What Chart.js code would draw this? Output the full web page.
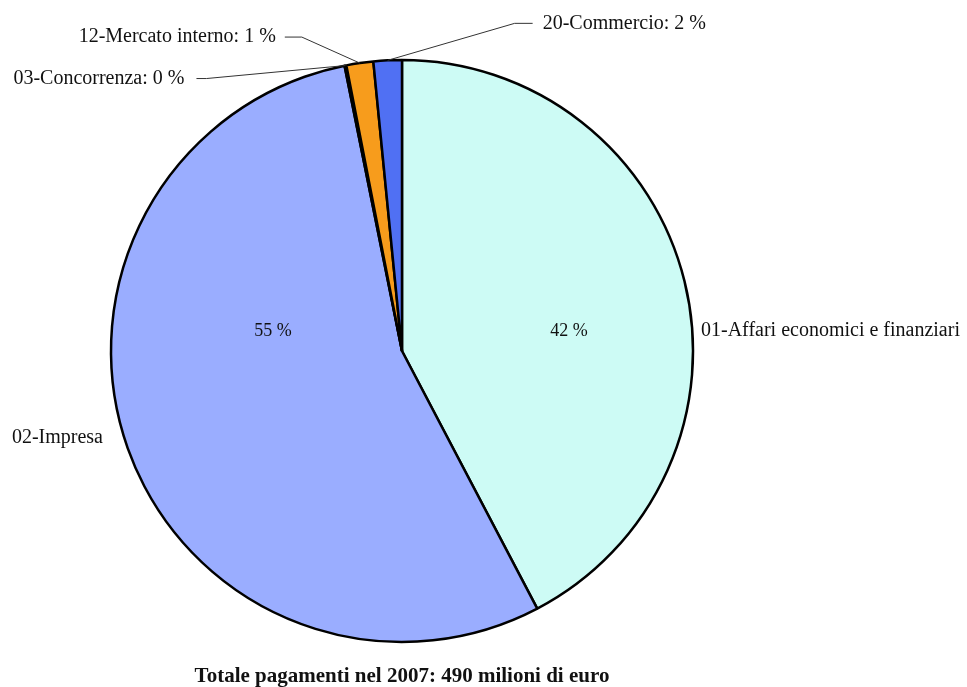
<!DOCTYPE html>
<html>
<head>
<meta charset="utf-8">
<script src="https://cdn.jsdelivr.net/npm/chart.js@4.4.1/dist/chart.umd.min.js"></script>
<style>
  html, body { margin: 0; padding: 0; background: #ffffff; }
  #wrap { width: 967px; height: 687px; }
</style>
</head>
<body>
<div id="wrap"><canvas id="chart" width="967" height="687"></canvas></div>
<script>
// Pagamenti 2007 per settore (milioni di euro)
const categories = [
  '01-Affari economici e finanziari',
  '02-Impresa',
  '03-Concorrenza',
  '12-Mercato interno',
  '20-Commercio'
];
const payments = [207.3, 267.2, 0.5, 7.3, 7.7];
const sliceColors = ['#cdfbf5', '#9aadff', '#1a1a40', '#f79c1c', '#5070f3'];
const titleText = 'Totale pagamenti nel 2007: 490 milioni di euro';

const FONT = '"Liberation Serif", "DejaVu Serif", serif';

// How each slice is labelled: big slices get the name beside the pie and the
// percentage inside; thin slices get "name: pct %" on a leader line.
const labelStyle = [
  { kind: 'split', inside: [0.574, -0.069], side: { dx: 8, dy: -20, align: 'left' } },
  { kind: 'split', inside: [-0.443, -0.069], side: { dx: -8, dy: 87, align: 'right' } },
  { kind: 'leader', elbow: [-139, 13], run: 10, gap: 12 },
  { kind: 'leader', elbow: [-58, -26], run: 17, gap: 9 },
  { kind: 'leader', elbow: [127, -37], run: 18, gap: 10 }
];

const total = payments.reduce((a, b) => a + b, 0);
const pct = v => Math.round(v / total * 100);

const pieLabels = {
  id: 'pieLabels',
  afterDatasetsDraw(chart) {
    const ctx = chart.ctx;
    const meta = chart.getDatasetMeta(0);
    ctx.save();
    ctx.fillStyle = '#111111';
    ctx.textBaseline = 'middle';
    meta.data.forEach((arc, i) => {
      const st = labelStyle[i];
      const { x, y, startAngle, endAngle, outerRadius } = arc.getProps(['x', 'y', 'startAngle', 'endAngle', 'outerRadius'], true);
      const r = outerRadius;
      const p = pct(payments[i]);
      if (st.kind === 'split') {
        ctx.font = '18px ' + FONT;
        ctx.textAlign = 'center';
        ctx.fillText(p + ' %', x + st.inside[0] * r, y + st.inside[1] * r);
        ctx.font = '20px ' + FONT;
        ctx.textAlign = st.side.align;
        const sx = st.side.align === 'left' ? x + r + st.side.dx : x - r + st.side.dx;
        ctx.fillText(categories[i], sx, y + st.side.dy);
      } else {
        const mid = (startAngle + endAngle) / 2;
        const ax = x + Math.cos(mid) * r;
        const ay = y + Math.sin(mid) * r;
        const ex = ax + st.elbow[0];
        const ey = ay + st.elbow[1];
        const dir = st.elbow[0] < 0 ? -1 : 1;
        const hx = ex + dir * st.run;
        ctx.strokeStyle = '#333333';
        ctx.lineWidth = 1;
        ctx.beginPath();
        ctx.moveTo(ax, ay);
        ctx.lineTo(ex, ey);
        ctx.lineTo(hx, ey);
        ctx.stroke();
        ctx.font = '20px ' + FONT;
        ctx.textAlign = dir < 0 ? 'right' : 'left';
        ctx.fillText(categories[i] + ': ' + p + ' %', hx + dir * st.gap, ey);
      }
    });
    ctx.restore();
  }
};

new Chart(document.getElementById('chart'), {
  type: 'pie',
  data: {
    labels: categories,
    datasets: [{
      data: payments,
      backgroundColor: sliceColors,
      borderColor: '#000000',
      borderWidth: 2.5,
      radius: 291
    }]
  },
  options: {
    responsive: false,
    animation: false,
    layout: { padding: { left: 0, right: 163, top: 36, bottom: 0 } },
    plugins: {
      legend: { display: false },
      tooltip: { enabled: false },
      title: {
        display: true,
        position: 'bottom',
        text: titleText,
        color: '#111111',
        font: { family: FONT, size: 21, weight: 'bold', lineHeight: 1.0 },
        padding: { top: 0, bottom: 0 }
      }
    }
  },
  plugins: [pieLabels]
});
</script>
</body>
</html>
